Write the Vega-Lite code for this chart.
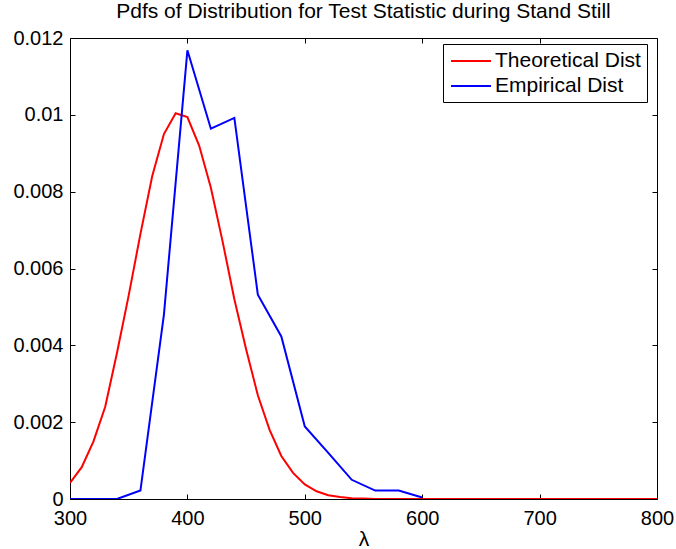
{
  "$schema": "https://vega.github.io/schema/vega-lite/v6.json",
  "autosize": "none",
  "width": 587,
  "height": 461,
  "padding": {"left": 70, "top": 38, "right": 19, "bottom": 50},
  "background": "white",
  "title": {"text": "Pdfs of Distribution for Test Statistic during Stand Still", "font": "Liberation Sans", "fontSize": 21, "fontWeight": "normal", "color": "black", "offset": 6, "anchor": "middle"},
  "config": {
    "view": {"stroke": "black", "strokeWidth": 1},
    "axis": {"labelFont": "Liberation Sans", "titleFont": "Liberation Sans", "labelFontSize": 20, "titleFontSize": 21, "labelColor": "black", "titleColor": "black", "domain": false, "grid": false, "tickColor": "black", "tickSize": 5, "tickWidth": 1, "titleFontWeight": "normal", "labelFlush": false, "labelOverlap": false}
  },
  "data": {"values": [
    {"lam": 300, "pdf": 0.00042, "series": "Theoretical Dist"},
    {"lam": 310, "pdf": 0.00083, "series": "Theoretical Dist"},
    {"lam": 320, "pdf": 0.0015, "series": "Theoretical Dist"},
    {"lam": 330, "pdf": 0.0024, "series": "Theoretical Dist"},
    {"lam": 340, "pdf": 0.0038, "series": "Theoretical Dist"},
    {"lam": 350, "pdf": 0.0053, "series": "Theoretical Dist"},
    {"lam": 360, "pdf": 0.0069, "series": "Theoretical Dist"},
    {"lam": 370, "pdf": 0.0084, "series": "Theoretical Dist"},
    {"lam": 380, "pdf": 0.0095, "series": "Theoretical Dist"},
    {"lam": 390, "pdf": 0.01004, "series": "Theoretical Dist"},
    {"lam": 400, "pdf": 0.00994, "series": "Theoretical Dist"},
    {"lam": 410, "pdf": 0.0092, "series": "Theoretical Dist"},
    {"lam": 420, "pdf": 0.0081, "series": "Theoretical Dist"},
    {"lam": 430, "pdf": 0.0067, "series": "Theoretical Dist"},
    {"lam": 440, "pdf": 0.0052, "series": "Theoretical Dist"},
    {"lam": 450, "pdf": 0.0039, "series": "Theoretical Dist"},
    {"lam": 460, "pdf": 0.0027, "series": "Theoretical Dist"},
    {"lam": 470, "pdf": 0.0018, "series": "Theoretical Dist"},
    {"lam": 480, "pdf": 0.00112, "series": "Theoretical Dist"},
    {"lam": 490, "pdf": 0.00068, "series": "Theoretical Dist"},
    {"lam": 500, "pdf": 0.00038, "series": "Theoretical Dist"},
    {"lam": 510, "pdf": 0.0002, "series": "Theoretical Dist"},
    {"lam": 520, "pdf": 0.0001, "series": "Theoretical Dist"},
    {"lam": 530, "pdf": 0.00005, "series": "Theoretical Dist"},
    {"lam": 540, "pdf": 0.00002, "series": "Theoretical Dist"},
    {"lam": 550, "pdf": 0.00001, "series": "Theoretical Dist"},
    {"lam": 560, "pdf": 0, "series": "Theoretical Dist"},
    {"lam": 600, "pdf": 0, "series": "Theoretical Dist"},
    {"lam": 700, "pdf": 0, "series": "Theoretical Dist"},
    {"lam": 800, "pdf": 0, "series": "Theoretical Dist"},
    {"lam": 300, "pdf": 0, "series": "Empirical Dist"},
    {"lam": 320, "pdf": 0, "series": "Empirical Dist"},
    {"lam": 340, "pdf": 0, "series": "Empirical Dist"},
    {"lam": 360, "pdf": 0.00022, "series": "Empirical Dist"},
    {"lam": 380, "pdf": 0.0048, "series": "Empirical Dist"},
    {"lam": 400, "pdf": 0.01168, "series": "Empirical Dist"},
    {"lam": 420, "pdf": 0.00964, "series": "Empirical Dist"},
    {"lam": 440, "pdf": 0.00992, "series": "Empirical Dist"},
    {"lam": 460, "pdf": 0.00532, "series": "Empirical Dist"},
    {"lam": 480, "pdf": 0.00423, "series": "Empirical Dist"},
    {"lam": 500, "pdf": 0.00189, "series": "Empirical Dist"},
    {"lam": 520, "pdf": 0.0012, "series": "Empirical Dist"},
    {"lam": 540, "pdf": 0.0005, "series": "Empirical Dist"},
    {"lam": 560, "pdf": 0.00022, "series": "Empirical Dist"},
    {"lam": 580, "pdf": 0.00022, "series": "Empirical Dist"},
    {"lam": 600, "pdf": 0.00004, "series": "Empirical Dist"}
  ]},
  "layer": [
    {
      "mark": {"type": "line", "strokeWidth": 2, "clip": true},
      "encoding": {
        "x": {"field": "lam", "type": "quantitative", "scale": {"domain": [300, 800], "nice": false, "zero": false}, "axis": {"orient": "bottom", "values": [300, 400, 500, 600, 700, 800], "title": "λ", "ticks": false, "labelPadding": 9, "titlePadding": 0}},
        "y": {"field": "pdf", "type": "quantitative", "scale": {"domain": [0, 0.012], "nice": false}, "axis": {"orient": "left", "values": [0, 0.002, 0.004, 0.006, 0.008, 0.01, 0.012], "format": "~g", "title": null, "ticks": false, "labelPadding": 7}},
        "color": {"field": "series", "type": "nominal", "sort": ["Theoretical Dist", "Empirical Dist"], "scale": {"domain": ["Theoretical Dist", "Empirical Dist"], "range": ["#ff0000", "#0000ff"]},
          "legend": {"title": null, "orient": "none", "legendX": 373, "legendY": 6, "strokeColor": "black", "fillColor": "white", "padding": 6, "symbolType": "M-2,0H2", "symbolSize": 400, "symbolOffset": 11, "symbolStrokeWidth": 2, "labelFont": "Liberation Sans", "labelFontSize": 21, "labelColor": "black", "rowPadding": 4, "labelOffset": 13}}
      }
    },
    {
      "mark": {"type": "point", "opacity": 0},
      "encoding": {
        "x": {"field": "lam", "type": "quantitative", "scale": {"domain": [300, 800], "nice": false, "zero": false}, "axis": {"orient": "top", "offset": -461, "values": [300, 400, 500, 600, 700, 800], "labels": false, "title": null}},
        "y": {"field": "pdf", "type": "quantitative", "scale": {"domain": [0, 0.012], "nice": false}, "axis": {"orient": "right", "offset": -587, "values": [0, 0.002, 0.004, 0.006, 0.008, 0.01, 0.012], "labels": false, "title": null}}
      }
    },
    {
      "mark": {"type": "point", "opacity": 0},
      "encoding": {
        "x": {"field": "lam", "type": "quantitative", "scale": {"domain": [300, 800], "nice": false, "zero": false}, "axis": {"orient": "bottom", "offset": -461, "values": [300, 400, 500, 600, 700, 800], "labels": false, "title": null}},
        "y": {"field": "pdf", "type": "quantitative", "scale": {"domain": [0, 0.012], "nice": false}, "axis": {"orient": "left", "offset": -587, "values": [0, 0.002, 0.004, 0.006, 0.008, 0.01, 0.012], "labels": false, "title": null}}
      }
    }
  ],
  "resolve": {"axis": {"x": "independent", "y": "independent"}}
}
